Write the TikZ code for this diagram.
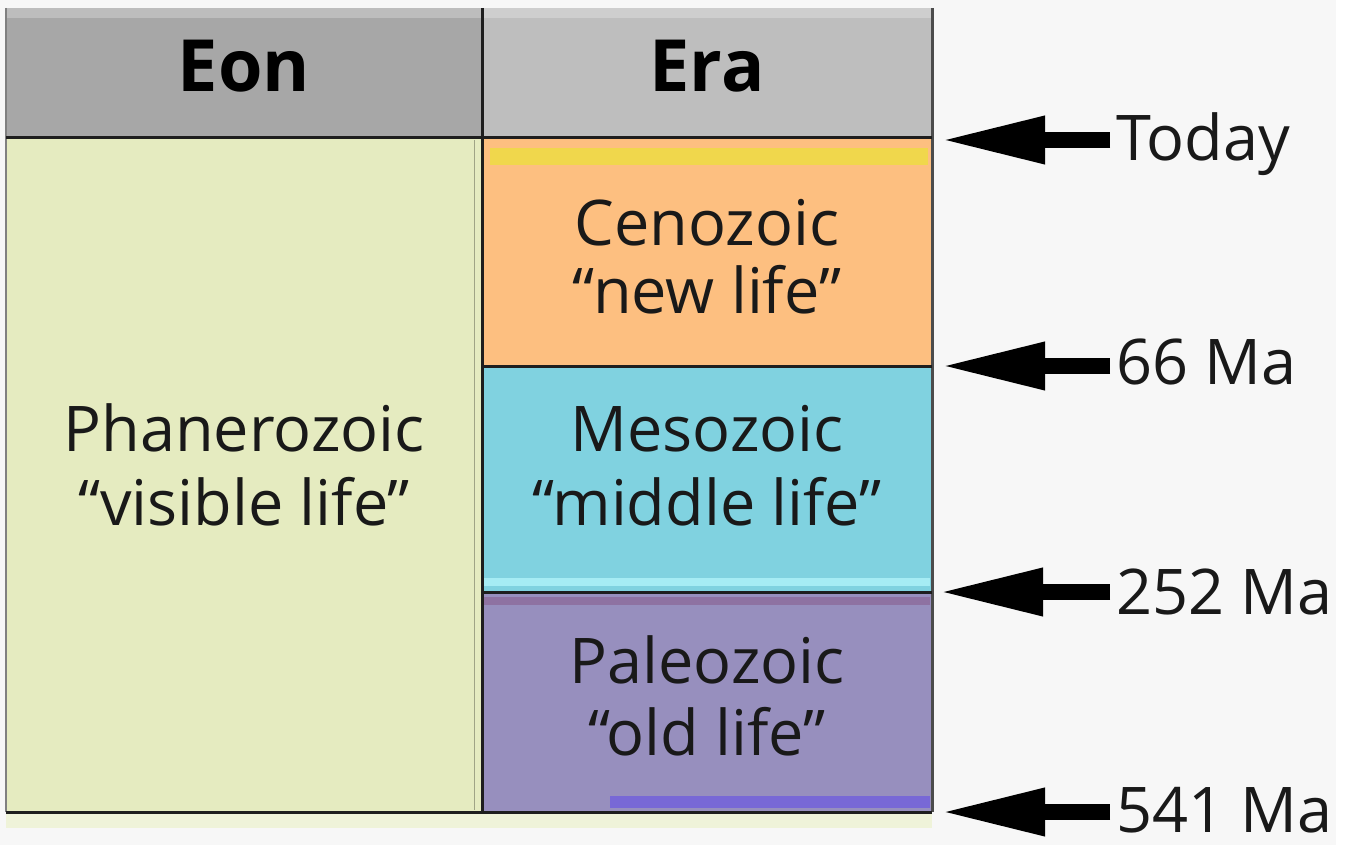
\documentclass[tikz,border=0pt]{standalone}
\usepackage{fontspec}
\setmainfont{Open Sans}
\usetikzlibrary{arrows.meta}
\definecolor{bg}{HTML}{F7F7F7}
\definecolor{eonhead}{HTML}{A7A7A7}
\definecolor{erahead}{HTML}{BEBEBE}
\definecolor{phan}{HTML}{E5EBC0}
\definecolor{ceno}{HTML}{FDBF80}
\definecolor{cenostrip}{HTML}{F0D74C}
\definecolor{meso}{HTML}{80D2E0}
\definecolor{mesostrip}{HTML}{A6ECF4}
\definecolor{paleo}{HTML}{978FBE}
\definecolor{paleotop}{HTML}{8E72A2}
\definecolor{paleobot}{HTML}{7868D6}
\definecolor{gridc}{HTML}{1E1E1E}
\tikzset{
  gridline/.style={draw=gridc, line width=3pt},
  lbl/.style={font=\fontsize{63}{70}\selectfont, anchor=base, inner sep=0pt, text=black!90},
  head/.style={font=\fontsize{72}{80}\selectfont\bfseries, anchor=base, inner sep=0pt, text=black},
  datelbl/.style={font=\fontsize{63}{70}\selectfont, anchor=base west, inner sep=0pt, text=black!90},
  bigarrow/.style={line width=16pt, -{Triangle[length=105pt,width=44pt]}}
}
\begin{document}
\begin{tikzpicture}[x=1pt,y=-1pt]
\useasboundingbox (0,0) rectangle (1346,845);
\fill[bg] (0,0) rectangle (1346,845);
\fill[white] (1336,0) rectangle (1346,845);
% fills
\fill[eonhead] (6,8) rectangle (482,138);
\fill[erahead] (482,8) rectangle (932,138);
\fill[eonhead!75!white] (6,8) rectangle (482,18);
\fill[erahead!75!white] (482,8) rectangle (932,18);
\fill[phan] (6,138) rectangle (482,812);
\fill[phan!60!white] (6,812) rectangle (932,828);
\fill[ceno] (482,138) rectangle (932,366);
\fill[cenostrip] (490,148) rectangle (928,165);
\fill[meso] (482,366) rectangle (932,592);
\fill[mesostrip] (484,578) rectangle (930,586);
\fill[paleo] (482,592) rectangle (932,812);
\fill[paleotop] (484,597) rectangle (930,605);
\fill[paleobot] (610,796) rectangle (930,808);
% grid lines
\draw[draw=gray, line width=1.5pt] (6,8) -- (6,812);
\draw[draw=phan!70!black, line width=1pt] (474,140) -- (474,810);
\draw[gridline] (482,8) -- (482,812);
\draw[gridline, draw=black!70] (932,8) -- (932,812);
\draw[gridline] (6,138) -- (932,138);
\draw[gridline] (482,366) -- (932,366);
\draw[gridline] (482,592) -- (932,592);
\draw[gridline] (6,812) -- (932,812);
% headers
\node[head] (eon) at (244,92) {Eon};
\node[head] (era) at (707,92) {Era};
% texts
\node[lbl] (phanA) at (244,451) {Phanerozoic};
\node[lbl] (phanB) at (244,525) {“visible life”};
\node[lbl] (cenoA) at (707,245) {Cenozoic};
\node[lbl] (cenoB) at (707,313) {“new life”};
\node[lbl] (mesoA) at (707,451) {Mesozoic};
\node[lbl] (mesoB) at (707,525) {“middle life”};
\node[lbl] (paleoA) at (707,683) {Paleozoic};
\node[lbl] (paleoB) at (707,755) {“old life”};
% date labels
\node[datelbl] (today) at (1116,161) {Today};
\node[datelbl] (ma66) at (1116,384) {66 Ma};
\node[datelbl] (ma252) at (1116,614) {252 Ma};
\node[datelbl] (ma541) at (1116,832) {541 Ma};
% arrow tips
\coordinate (tToday) at (940,140);
\coordinate (t66) at (940,366);
\coordinate (t252) at (938,592);
\coordinate (t541) at (940,812);
\draw[bigarrow] ([xshift=-6pt]today.west |- tToday) -- (tToday);
\draw[bigarrow] ([xshift=-6pt]ma66.west |- t66) -- (t66);
\draw[bigarrow] ([xshift=-6pt]ma252.west |- t252) -- (t252);
\draw[bigarrow] ([xshift=-6pt]ma541.west |- t541) -- (t541);
\end{tikzpicture}
\end{document}
